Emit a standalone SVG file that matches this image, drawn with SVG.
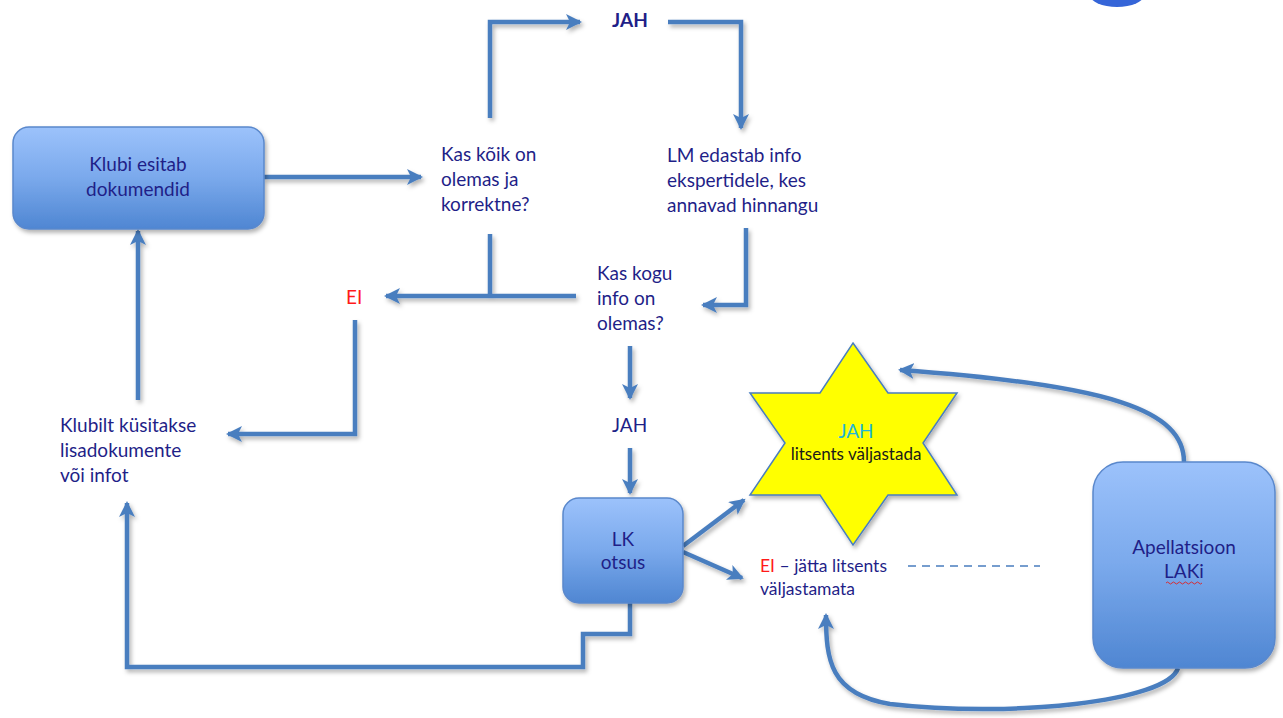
<svg xmlns="http://www.w3.org/2000/svg" width="1283" height="718" viewBox="0 0 1283 718">
<style>
.t{font-family:Lato,"Liberation Sans",sans-serif;font-size:19px;fill:#1f1f88}
.c{text-anchor:middle}
.red{fill:#ff1a1a}
.ln{fill:none;stroke:#4a7ebf;stroke-width:4.5}
.box{stroke:#5a88cc;stroke-width:1.5;fill:url(#g)}
</style>
<defs>
<linearGradient id="g" x1="0" y1="0" x2="0" y2="1">
<stop offset="0" stop-color="#9cc2fb"/>
<stop offset="0.5" stop-color="#7aa9ec"/>
<stop offset="1" stop-color="#4f86d2"/>
</linearGradient>
<filter id="sh" x="-10%" y="-10%" width="130%" height="130%">
<feDropShadow dx="2" dy="3" stdDeviation="2" flood-color="#000" flood-opacity="0.3"/>
</filter>
<marker id="a" markerUnits="userSpaceOnUse" markerWidth="18" markerHeight="18" refX="14" refY="8" orient="auto">
<path d="M0,0 L16,8 L0,16 L4,8 Z" fill="#4a7ebf"/>
</marker>
</defs>
<ellipse cx="1117" cy="-5" rx="27" ry="12" fill="#3565d8"/>
<g id="connectors" filter="url(#sh)">
<path class="ln" d="M264,177 H421" marker-end="url(#a)"/>
<path class="ln" d="M490,118 V22 H580" marker-end="url(#a)"/>
<path class="ln" d="M668,22 H741 V128" marker-end="url(#a)"/>
<path class="ln" d="M746,228 V305 H703" marker-end="url(#a)"/>
<path class="ln" d="M490,234 V296"/>
<path class="ln" d="M576,296 H386" marker-end="url(#a)"/>
<path class="ln" d="M355,320 V434 H228" marker-end="url(#a)"/>
<path class="ln" d="M138,400 V231" marker-end="url(#a)"/>
<path class="ln" d="M630,346 V398" marker-end="url(#a)"/>
<path class="ln" d="M630,448 V493" marker-end="url(#a)"/>
<path class="ln" d="M683,546 L744,500" marker-end="url(#a)"/>
<path class="ln" d="M683,552 L742,578" marker-end="url(#a)"/>
<path class="ln" d="M630,603 V634 H583 V667 H127 V503" marker-end="url(#a)"/>
<path class="ln" d="M1184,462 C1184,410 1110,385 900,370" marker-end="url(#a)"/>
<path class="ln" d="M1178,668 C1168,702 1010,718 890,704 C830,694 826,660 826,615" marker-end="url(#a)"/>
</g>
<line x1="908" y1="566" x2="1040" y2="566" stroke="#4a7ebf" stroke-width="1.5" stroke-dasharray="8,6"/>
<g id="klubi">
<rect class="box" x="13" y="127" width="251" height="102" rx="16" filter="url(#sh)"/>
<text class="t c" x="138" y="171">Klubi esitab</text>
<text class="t c" x="138" y="196">dokumendid</text>
</g>
<g id="kontroll">
<text class="t" x="441" y="161">Kas kõik on</text>
<text class="t" x="441" y="186">olemas ja</text>
<text class="t" x="441" y="211">korrektne?</text>
</g>
<g id="jah1">
<text class="t" x="612" y="27" font-weight="bold">JAH</text>
</g>
<g id="lm">
<text class="t" x="667" y="162">LM edastab info</text>
<text class="t" x="667" y="187">ekspertidele, kes</text>
<text class="t" x="667" y="212">annavad hinnangu</text>
</g>
<g id="kogu">
<text class="t" x="597" y="280">Kas kogu</text>
<text class="t" x="597" y="305">info on</text>
<text class="t" x="597" y="330">olemas?</text>
</g>
<g id="ei1">
<text class="t red" x="346" y="304">EI</text>
</g>
<g id="klubilt">
<text class="t" x="60" y="432">Klubilt küsitakse</text>
<text class="t" x="60" y="457">lisadokumente</text>
<text class="t" x="60" y="482">või infot</text>
</g>
<g id="jah2">
<text class="t" x="612" y="432">JAH</text>
</g>
<g id="lk">
<rect class="box" x="563" y="498" width="120" height="105" rx="16" filter="url(#sh)"/>
<text class="t c" x="623" y="546">LK</text>
<text class="t c" x="623" y="569">otsus</text>
</g>
<g id="star">
<polygon points="853,343 888,393 957,393 923,443 957,495 888,495 853,545 820,495 750,495 785,443 750,393 820,393" fill="#ffff00" stroke="#4a7ebf" stroke-width="1.5" filter="url(#sh)"/>
<text class="t c" x="856" y="438" style="fill:#21b6d8">JAH</text>
<text class="t c" x="856" y="460" style="fill:#1a1a1a;font-size:17px">litsents väljastada</text>
</g>
<g id="ei2">
<text class="t" x="760" y="572" style="font-size:17.5px"><tspan class="red">EI</tspan> – jätta litsents</text>
<text class="t" x="760" y="595" style="font-size:17.5px">väljastamata</text>
</g>
<g id="apellatsioon">
<rect class="box" x="1093" y="462" width="182" height="206" rx="30" filter="url(#sh)"/>
<text class="t c" x="1184" y="554">Apellatsioon</text>
<text class="t c" x="1184" y="578">LAKi</text>
<path d="M1166,583 q1.5,-2 3,0 t3,0 t3,0 t3,0 t3,0 t3,0 t3,0 t3,0 t3,0 t3,0 t3,0 t3,0" fill="none" stroke="#e02020" stroke-width="0.9"/>
</g>
</svg>
